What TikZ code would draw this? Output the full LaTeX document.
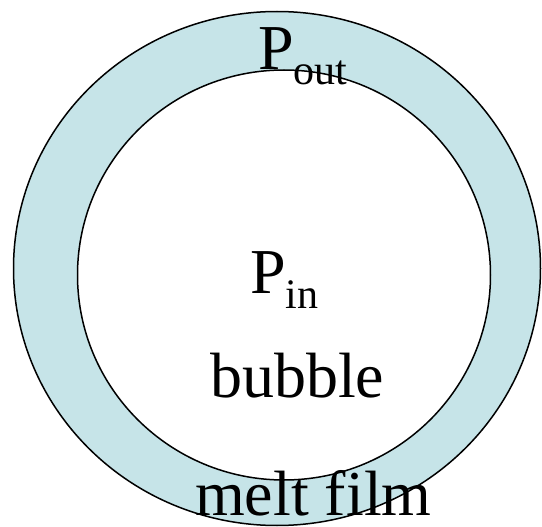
\documentclass[tikz,border=0pt]{standalone}
\usepackage{fontspec}
\setmainfont{Liberation Serif}
\usetikzlibrary{shapes.geometric}
\definecolor{filmcol}{RGB}{198,228,232}
\tikzset{
  ring/.style={ellipse, draw=black, line width=1.5pt, inner sep=0pt, outer sep=0pt},
  bigtext/.style={anchor=base west, inner sep=0pt, font=\fontsize{64}{70}\selectfont}
}
\newcommand{\subtxt}[1]{\raisebox{-15pt}{\fontsize{42}{44}\selectfont #1}}
\begin{document}
\begin{tikzpicture}[x=1pt,y=-1pt]
\useasboundingbox (0,0) rectangle (542,527);
\node[ring, fill=filmcol, minimum width=527pt, minimum height=514pt] (outer) at (277,268.5) {};
\node[ring, fill=white, minimum width=413pt, minimum height=410pt] (inner) at (284,275) {};
\node[bigtext] (pout) at (258,70) {P\subtxt{out}};
\node[bigtext] (pin) at (250,294) {P\subtxt{in}};
\node[bigtext] (bubble) at (210,397) {bubble};
\node[bigtext] (melt) at (195,515) {melt film};
\end{tikzpicture}
\end{document}
